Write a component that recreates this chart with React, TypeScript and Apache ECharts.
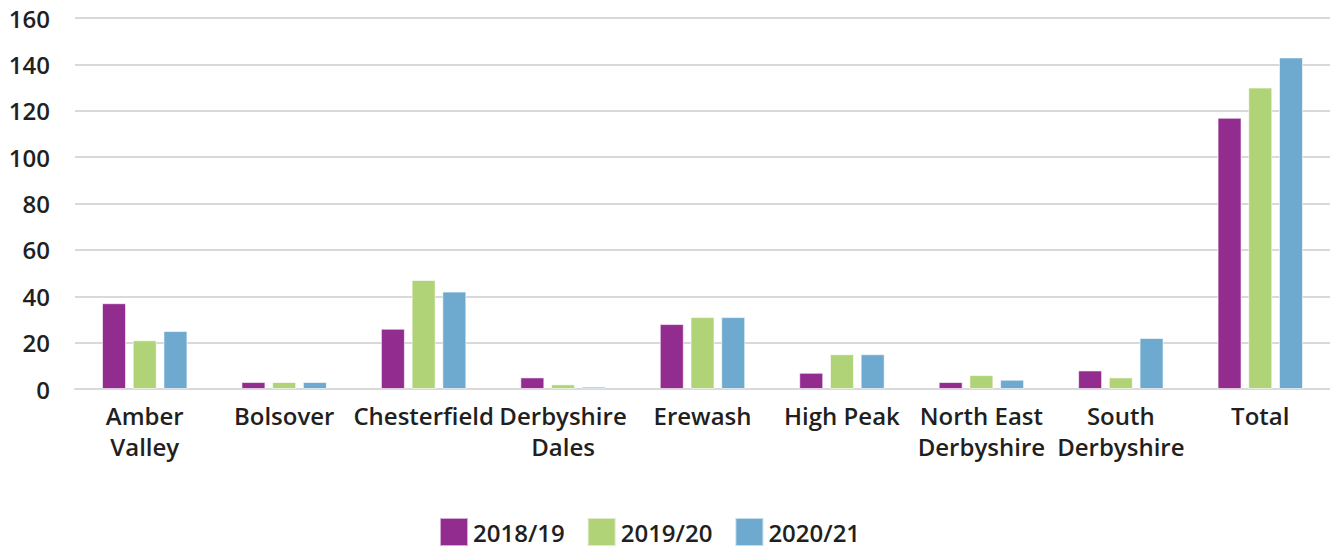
import React, { useEffect, useRef } from "react";
import * as echarts from "echarts";

const categories = [
  "Amber\nValley",
  "Bolsover",
  "Chesterfield",
  "Derbyshire\nDales",
  "Erewash",
  "High Peak",
  "North East\nDerbyshire",
  "South\nDerbyshire",
  "Total",
];
const s2018 = [37, 3, 26, 5, 28, 7, 3, 8, 117];
const s2019 = [21, 3, 47, 2, 31, 15, 6, 5, 130];
const s2020 = [25, 3, 42, 1, 31, 15, 4, 22, 143];
const seriesNames = ["2018/19", "2019/20", "2020/21"];
const colors = ["#922C8E", "#B0D377", "#6EA9CF"];

export default function App() {
  const ref = useRef<HTMLDivElement>(null);
  useEffect(() => {
    document.body.style.margin = "0";
    if (!ref.current) return;
    const chart = echarts.init(ref.current, undefined, { renderer: "svg" });
    const font = "'Open Sans', 'Noto Sans', sans-serif";
    const data = [s2018, s2019, s2020];
    const labelStyle = {
      fontSize: 24,
      fontWeight: 600,
      color: "#231F20",
      fontFamily: font,
    };
    chart.setOption({
      animation: false,
      textStyle: { fontFamily: font },
      grid: { left: 75, right: 0, top: 18, bottom: 159 },
      legend: {
        bottom: 1,
        left: 439,
        padding: 0,
        itemWidth: 28,
        itemHeight: 28,
        itemGap: 22,
        icon: "rect",
        textStyle: { ...labelStyle },
        data: seriesNames,
      },
      xAxis: {
        type: "category",
        data: categories,
        axisLine: { lineStyle: { color: "#D9D9D9", width: 2 } },
        axisTick: { show: false },
        axisLabel: {
          ...labelStyle,
          interval: 0,
          lineHeight: 31,
          margin: 11,
        },
      },
      yAxis: {
        type: "value",
        min: 0,
        max: 160,
        interval: 20,
        axisLine: { show: false },
        axisTick: { show: false },
        splitLine: { lineStyle: { color: "#D9D9D9", width: 2 } },
        axisLabel: {
          ...labelStyle,
          margin: 25,
        },
      },
      series: seriesNames.map((name, i) => ({
        name,
        type: "bar",
        data: data[i],
        barWidth: 24,
        barGap: "28%",
        itemStyle: {
          color: colors[i],
          borderColor: "rgba(255,255,255,0.6)",
          borderWidth: 1,
        },
      })),
    });
    return () => chart.dispose();
  }, []);
  return <div ref={ref} style={{ width: 1330, height: 548 }} />;
}
